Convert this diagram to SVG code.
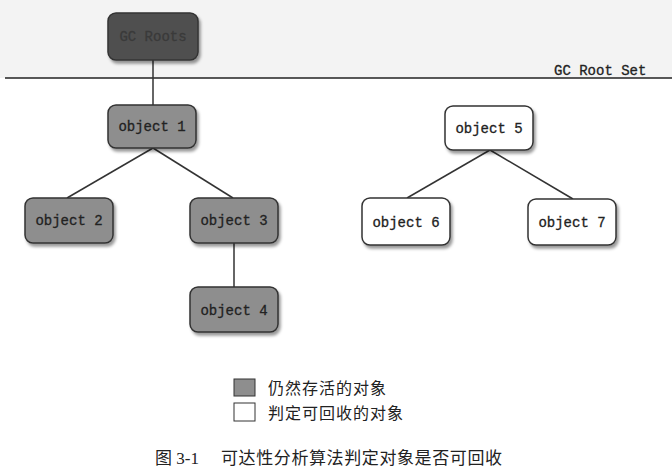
<svg xmlns="http://www.w3.org/2000/svg" width="672" height="473" viewBox="0 0 672 473">
<style>
.node rect{stroke:#333;stroke-width:1.5;filter:url(#sh)}
.live rect{fill:#8e8e8e}
.dead rect{fill:#fff}
.node text{font-family:"Liberation Mono",monospace;font-size:14px;fill:#222;text-anchor:middle;stroke:#222;stroke-width:0.3}
.edge{stroke:#333;stroke-width:1.5;fill:none}
.cjk{font-family:"Noto Sans CJK SC",sans-serif;font-size:16px;fill:#222;letter-spacing:1px}
</style>
<defs>
<filter id="sh" x="-20%" y="-20%" width="140%" height="150%">
<feDropShadow dx="2" dy="3" stdDeviation="1.5" flood-color="#000" flood-opacity="0.4"/>
</filter>
</defs>
<rect x="0" y="0" width="672" height="473" fill="#fff"/>
<rect x="0" y="0" width="672" height="78" fill="#f3f3f3"/>
<line x1="5" y1="78" x2="672" y2="78" stroke="#222" stroke-width="1.5"/>
<text x="554" y="75" font-family="Liberation Mono,monospace" font-size="14" fill="#222" stroke="#222" stroke-width="0.3">GC Root Set</text>
<g id="connectors">
<line class="edge" x1="153" y1="60" x2="153" y2="105"/>
<line class="edge" x1="153" y1="148" x2="67" y2="198"/>
<line class="edge" x1="153" y1="148" x2="233" y2="198"/>
<line class="edge" x1="234" y1="243" x2="234" y2="287"/>
<line class="edge" x1="490" y1="150" x2="407" y2="198"/>
<line class="edge" x1="490" y1="150" x2="573" y2="199"/>
</g>
<g id="gcroots" class="node"><rect x="108" y="13" width="90" height="47" rx="8" fill="#505050"/><text x="153" y="41" style="fill:#3a3a3a;stroke:#3a3a3a">GC Roots</text></g>
<g id="object1" class="node live"><rect x="108" y="105" width="88" height="43" rx="8"/><text x="152" y="131">object 1</text></g>
<g id="object2" class="node live"><rect x="25" y="198" width="88" height="45" rx="8"/><text x="69" y="225">object 2</text></g>
<g id="object3" class="node live"><rect x="190" y="198" width="88" height="45" rx="8"/><text x="234" y="225">object 3</text></g>
<g id="object4" class="node live"><rect x="190" y="287" width="88" height="45" rx="8"/><text x="234" y="315">object 4</text></g>
<g id="object5" class="node dead"><rect x="445" y="106" width="88" height="44" rx="8"/><text x="489" y="133">object 5</text></g>
<g id="object6" class="node dead"><rect x="362" y="198" width="88" height="47" rx="8"/><text x="406" y="227">object 6</text></g>
<g id="object7" class="node dead"><rect x="528" y="199" width="88" height="46" rx="8"/><text x="572" y="227">object 7</text></g>
<g id="legend">
<rect x="234" y="379" width="21" height="17" fill="#8e8e8e" stroke="#333" stroke-width="1"/>
<text class="cjk" x="268" y="394">仍然存活的对象</text>
<rect x="234" y="403" width="21" height="18" fill="#fff" stroke="#333" stroke-width="1"/>
<text class="cjk" x="268" y="419">判定可回收的对象</text>
</g>
<text x="155" y="464" font-family="Liberation Serif,Noto Sans CJK SC,serif" font-size="17" fill="#222"><tspan>图 3-1</tspan><tspan x="221" letter-spacing="0.6">可达性分析算法判定对象是否可回收</tspan></text>
</svg>
